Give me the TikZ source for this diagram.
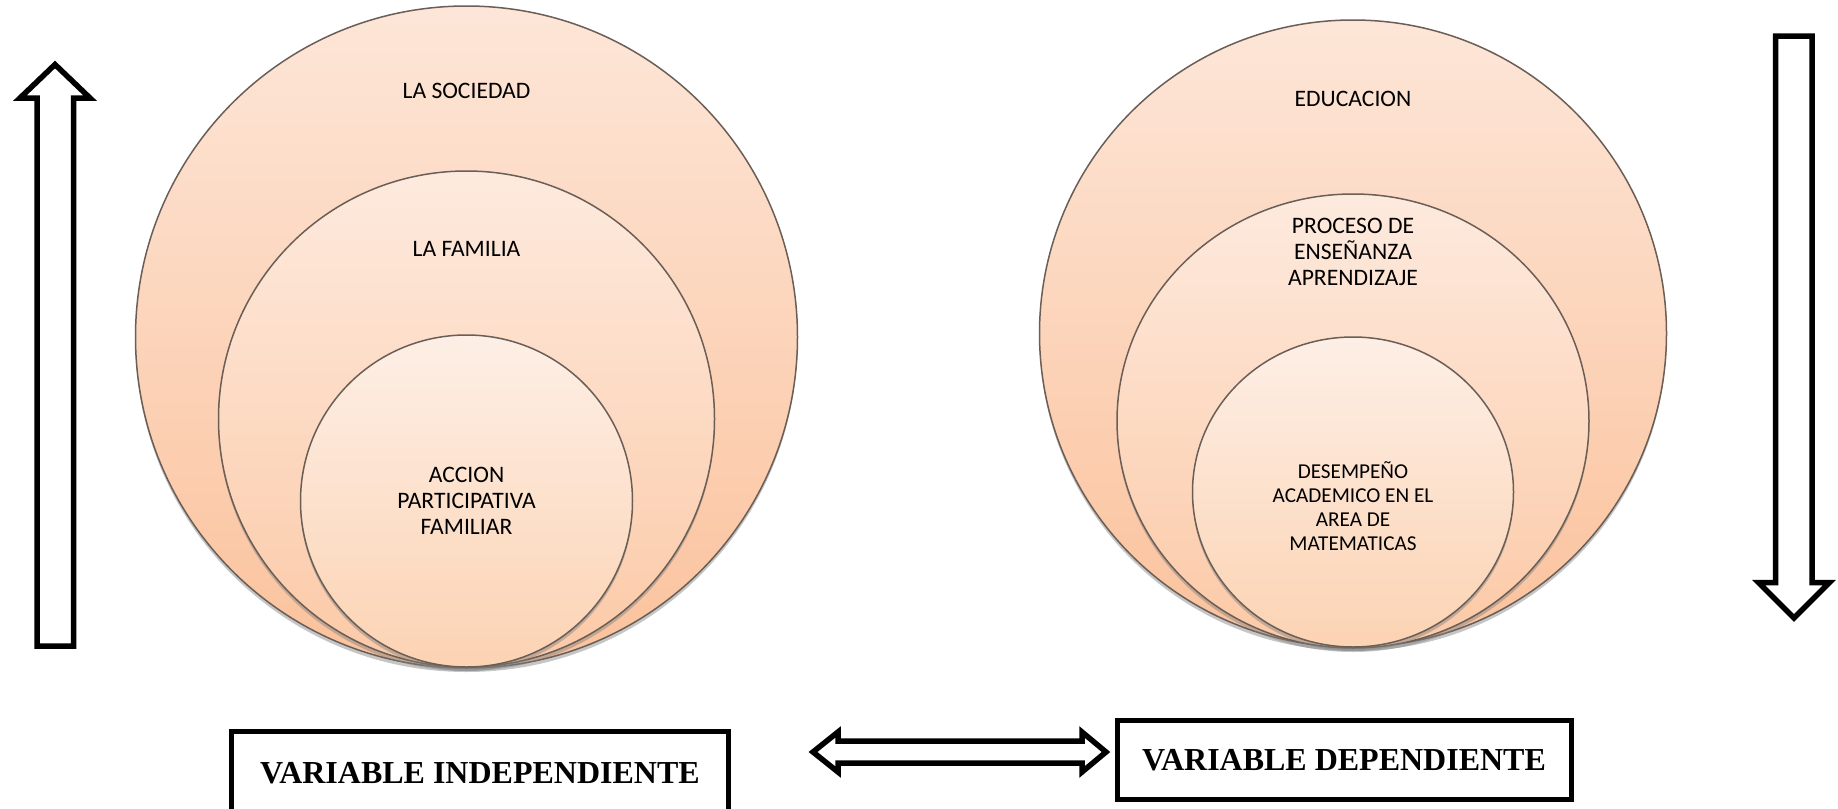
\documentclass[tikz,border=0pt]{standalone}
\usepackage{fontspec}
\setmainfont{Carlito}
\newfontfamily\varfont{Liberation Serif}
\usetikzlibrary{shapes.geometric,shadows,positioning}

\newlength\px
\setlength\px{0.5pt}

\definecolor{rimcol}{HTML}{6A5E56}
\definecolor{outtop}{HTML}{FDE6D8}
\definecolor{outbot}{HTML}{FBC29C}
\definecolor{midtop}{HTML}{FDEADE}
\definecolor{midbot}{HTML}{FCC9A6}
\definecolor{intop}{HTML}{FDEFE6}
\definecolor{inbot}{HTML}{FCD3B3}

\tikzset{
  bubble/.style={ellipse, draw=rimcol, line width=1.5\px, inner sep=0pt,
    drop shadow={shadow xshift=0pt, shadow yshift=-4\px, opacity=0.45}},
  outer/.style={bubble, top color=outtop, bottom color=outbot},
  middle/.style={bubble, top color=midtop, bottom color=midbot},
  inner/.style={bubble, top color=intop, bottom color=inbot},
  lbl/.style={align=center, inner sep=0pt, font=\fontsize{11.8}{13}\selectfont},
  smalllbl/.style={align=center, inner sep=0pt, font=\fontsize{10.6}{12}\selectfont},
  varbox/.style={draw, line width=5\px, inner sep=0pt,
    font=\varfont\bfseries\fontsize{16}{19}\selectfont},
  blockarrow/.style={draw, line width=5.5\px, line join=miter, fill=white}
}

\begin{document}
\begin{tikzpicture}[x=1\px, y=-1\px]
  \useasboundingbox (0,0) rectangle (1838,809);

  % independiente
  \node[outer, minimum width=662\px, minimum height=662\px] (sociedad) at (466.5,337) {};
  \node[middle, minimum width=496\px, minimum height=496\px] (familia) at (466.5,419) {};
  \node[inner, minimum width=332\px, minimum height=332\px] (accion) at (466.5,501) {};
  \node[lbl] at ([yshift=-85.5\px]sociedad.north) {LA SOCIEDAD};
  \node[lbl] at ([yshift=-78.5\px]familia.north) {LA FAMILIA};
  \node[lbl] at (accion.center) {ACCION\\PARTICIPATIVA\\FAMILIAR};

  % dependiente
  \node[outer, minimum width=627\px, minimum height=627\px] (educacion) at (1353,333.5) {};
  \node[middle, minimum width=472\px, minimum height=454\px] (proceso) at (1353,421) {};
  \node[inner, minimum width=321\px, minimum height=310\px] (desempeno) at (1353,492) {};
  \node[lbl] at ([yshift=-79.5\px]educacion.north) {EDUCACION};
  \node[lbl] at ([yshift=-58.5\px]proceso.north) {PROCESO DE\\ENSEÑANZA\\APRENDIZAJE};
  \node[smalllbl] at ([yshift=-14\px]desempeno.center) {DESEMPEÑO\\ACADEMICO EN EL\\AREA DE\\MATEMATICAS};

  % flechas
  \draw[blockarrow] (37,646) -- (37,98) -- (20,98) -- (55,64.5) -- (90,98)
    -- (73.5,98) -- (73.5,646) -- cycle;
  \draw[blockarrow] (1775.5,36) -- (1775.5,582.5) -- (1758.5,582.5) -- (1794,618)
    -- (1829.5,582.5) -- (1812,582.5) -- (1812,36) -- cycle;

  \node[varbox, minimum width=497\px, minimum height=84\px] (indep) at (480,773) {VARIABLE INDEPENDIENTE};
  \node[varbox, minimum width=454\px, minimum height=79\px] (dep) at (1344,760) {VARIABLE DEPENDIENTE};

  \draw[blockarrow] (813,752) -- (838,732) -- (838,741) -- (1082,741) -- (1082,732)
    -- (1106,752) -- (1082,772) -- (1082,763) -- (838,763) -- (838,772) -- cycle;
\end{tikzpicture}
\end{document}
